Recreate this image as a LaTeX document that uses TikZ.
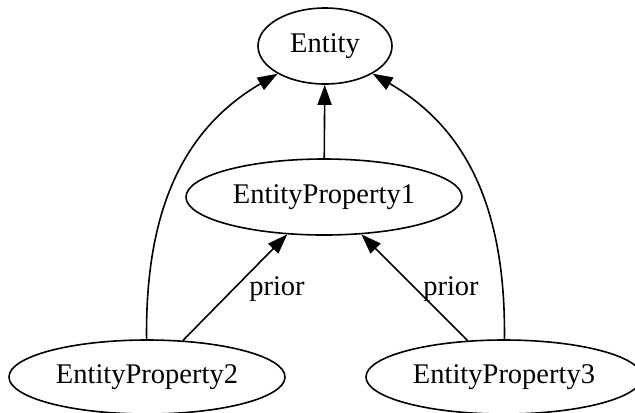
\documentclass[tikz,border=0pt]{standalone}
\usepackage{fontspec}
\setmainfont{Liberation Serif}
\usetikzlibrary{shapes.geometric,arrows.meta}
\tikzset{
  gvnode/.style={draw, ellipse, line width=1.6bp, inner sep=0pt,
    font=\fontsize{28.5bp}{34bp}\selectfont},
  gvedge/.style={line width=1.6bp, -{Triangle[length=20bp,width=14bp]}},
  gvlabel/.style={inner sep=0pt, font=\fontsize{28.5bp}{34bp}\selectfont}
}
\begin{document}
\begin{tikzpicture}[x=1bp,y=-1bp]
\useasboundingbox (0,0) rectangle (635,412);
\node[gvnode, minimum width=134bp, minimum height=76bp] (entity) at (325,46) {Entity};
\node[gvnode, minimum width=276bp, minimum height=76bp] (ep1) at (324,197) {EntityProperty1};
\node[gvnode, minimum width=276bp, minimum height=74bp] (ep2) at (147,377) {EntityProperty2};
\node[gvnode, minimum width=276bp, minimum height=74bp] (ep3) at (504,377) {EntityProperty3};
\draw[gvedge] (ep1) -- (entity);
\draw[gvedge] (ep2) .. controls (145,200) and (190,125) .. (entity);
\draw[gvedge] (ep3) .. controls (506,200) and (461,125) .. (entity);
\draw[gvedge] (ep2) -- (ep1);
\draw[gvedge] (ep3) -- (ep1);
\node[gvlabel] (l1) at (277,289) {prior};
\node[gvlabel] (l2) at (451,289) {prior};
\end{tikzpicture}
\end{document}
